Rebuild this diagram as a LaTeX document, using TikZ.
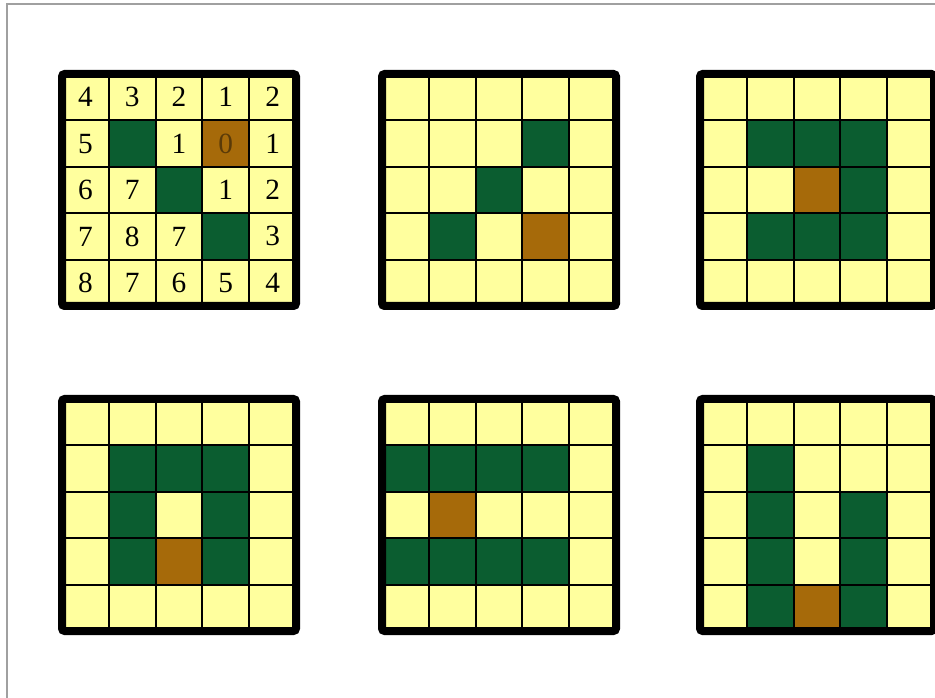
\documentclass[tikz,border=0pt]{standalone}
\usepackage{fontspec}
\setmainfont{Liberation Serif}
\definecolor{cellyel}{HTML}{FFFF9E}
\definecolor{cellgrn}{HTML}{0B5D30}
\definecolor{cellbrn}{HTML}{A66A0A}
\definecolor{zerotxt}{HTML}{5A3A08}
\definecolor{pagegray}{HTML}{A0A0A0}
\newcommand{\gridat}[4]{%
  \begin{scope}[shift={(#1,#2)}]
    \fill[cellyel] (4,4) rectangle (238,236);
    \foreach \c/\r in {#3} \fill[cellgrn] (4+\c*46.8,4+\r*46.4) rectangle ++(46.8,46.4);
    \foreach \c/\r in {#4} \fill[cellbrn] (4+\c*46.8,4+\r*46.4) rectangle ++(46.8,46.4);
    \foreach \i in {1,...,4} {
      \draw[cellline] (4+\i*46.8,4) -- (4+\i*46.8,236);
      \draw[cellline] (4,4+\i*46.4) -- (238,4+\i*46.4);
    }
    \draw[gridframe] (4,4) rectangle (238,236);
  \end{scope}}
\begin{document}
\begin{tikzpicture}[x=0.75pt,y=-0.75pt,
  cellline/.style={line width=1.5pt,black},
  gridframe/.style={line width=6pt,black,rounded corners=2pt},
  numtxt/.style={font=\fontsize{22}{26}\selectfont,inner sep=0pt,anchor=center}]
\useasboundingbox (0,0) rectangle (935,698);
\clip (0,0) rectangle (935,698);
\fill[white] (0,0) rectangle (935,698);
\draw[pagegray,line width=1.1pt] (7,698) -- (7,4) -- (935,4);
% row 1
\gridat{58}{70}{1/1,2/2,3/3}{3/1}
\gridat{378}{70}{3/1,2/2,1/3}{3/3}
\gridat{696}{70}{1/1,2/1,3/1,3/2,1/3,2/3,3/3}{2/2}
% row 2
\gridat{58}{395}{1/1,2/1,3/1,1/2,3/2,1/3,3/3}{2/3}
\gridat{378}{395}{0/1,1/1,2/1,3/1,0/3,1/3,2/3,3/3}{1/2}
\gridat{696}{395}{1/1,1/2,1/3,1/4,3/2,3/3,3/4}{2/4}
% numbers in first grid
\foreach \c/\r/\v in {0/0/4,1/0/3,2/0/2,3/0/1,4/0/2,
  0/1/5,2/1/1,4/1/1,
  0/2/6,1/2/7,3/2/1,4/2/2,
  0/3/7,1/3/8,2/3/7,4/3/3,
  0/4/8,1/4/7,2/4/6,3/4/5,4/4/4}
  \node[numtxt] (n-\c-\r) at (62+23.4+\c*46.8,74+23.2+\r*46.4) {\v};
\node[numtxt,text=zerotxt] (n-3-1) at (62+23.4+3*46.8,74+23.2+1*46.4) {0};
\end{tikzpicture}
\end{document}
